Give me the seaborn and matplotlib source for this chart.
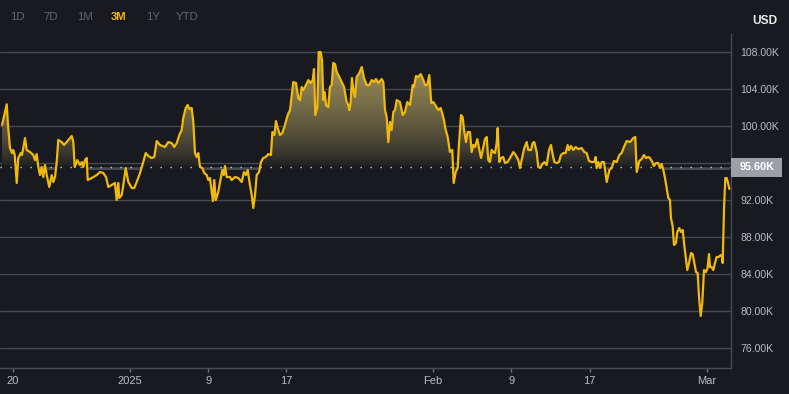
import numpy as np
import pandas as pd
import matplotlib
matplotlib.use("Agg")
import matplotlib.pyplot as plt
import matplotlib.dates as mdates
import matplotlib.transforms as mtransforms
from matplotlib.patches import Polygon, Rectangle
import seaborn as sns

# ---------------- data (days after 2024-12-20 00:00, price in thousand USD) -------------
days_a = [-1.08, -0.60, -0.47, -0.27, -0.06, 0.07, 0.22, 0.42, 0.58, 0.83,
          0.96, 1.09, 1.27, 1.44, 1.78, 2.12, 2.29, 2.46, 2.63, 2.80,
          2.98, 3.14, 3.31, 3.49, 3.75, 4.00, 4.16, 4.34, 4.51, 4.67,
          5.02, 5.26, 5.53, 5.87, 6.04, 6.21, 6.35, 6.62, 6.89, 7.07,
          7.23, 7.40, 7.58, 7.68, 8.09, 8.60, 8.94, 9.27, 9.55, 9.79,
          10.13, 10.47, 10.64, 10.81, 10.91, 11.16, 11.32, 11.57, 11.83, 12.18,
          12.44, 12.69, 13.03, 13.36, 13.61, 13.88]
price_a = [100.11, 102.35, 100.11, 97.62, 97.08, 97.41, 96.87, 93.84, 96.54, 97.08,
           96.87, 97.62, 98.70, 97.41, 97.19, 96.87, 96.32, 96.97, 95.57, 94.70,
           95.57, 94.49, 95.78, 94.70, 93.41, 94.70, 93.95, 94.49, 96.11, 98.49,
           98.27, 97.95, 98.27, 98.70, 98.92, 98.27, 95.57, 96.32, 95.78, 96.11,
           95.57, 96.32, 96.54, 94.16, 94.38, 94.70, 95.03, 94.92, 94.49, 93.41,
           93.62, 93.84, 92.00, 93.84, 92.22, 92.54, 93.62, 95.46, 93.95, 93.30,
           93.30, 93.95, 94.92, 96.11, 97.08, 96.76]

days_b = [14.22, 14.49, 14.74, 15.07, 15.58, 15.92, 16.27, 16.53, 16.78, 17.05,
          17.29, 17.45, 17.70, 17.90, 18.07, 18.31, 18.48, 18.65, 18.82, 18.99,
          19.16, 19.40, 19.60, 19.85, 20.01, 20.18, 20.36, 20.49, 20.62, 20.77,
          21.03, 21.31, 21.44, 21.59, 21.72, 21.89, 22.23, 22.40, 22.74, 23.08,
          23.43, 23.66, 23.87, 24.04, 24.27, 24.45, 24.61, 24.79, 24.96, 25.20,
          25.40, 25.63, 25.88, 26.15, 26.42, 26.56, 26.77, 26.93, 27.11, 27.34,
          27.58, 27.85, 28.13, 28.37]
price_b = [96.54, 96.65, 98.38, 97.95, 97.73, 98.27, 98.16, 97.73, 98.16, 99.03,
           99.57, 100.87, 101.95, 102.27, 101.84, 101.95, 100.43, 97.08, 96.65, 97.08,
           95.57, 95.46, 94.92, 94.70, 94.16, 94.38, 92.87, 91.89, 94.16, 92.00,
           92.87, 94.49, 95.24, 94.70, 95.68, 94.49, 94.49, 94.16, 94.49, 94.38,
           93.95, 95.03, 94.70, 95.24, 93.62, 92.54, 91.14, 92.54, 94.70, 95.03,
           96.11, 96.54, 96.65, 96.97, 96.87, 99.35, 99.03, 100.54, 99.78, 99.03,
           99.24, 100.11, 101.19, 101.73]

days_c = [28.70, 28.98, 29.21, 29.39, 29.56, 29.73, 30.00, 30.24, 30.48, 30.69,
          30.82, 30.95, 31.16, 31.30, 31.50, 31.64, 31.77, 31.91, 32.05, 32.28,
          32.45, 32.63, 32.79, 32.97, 33.14, 33.41, 33.65, 33.89, 34.16, 34.33,
          34.43, 34.57, 34.70, 34.84, 35.01, 35.18, 35.45, 35.70, 35.93, 36.21,
          36.47, 36.72, 36.95, 37.16, 37.39, 37.74, 37.91, 38.08, 38.25, 38.42,
          38.59, 38.76, 38.93, 39.10, 39.28, 39.61, 39.89, 40.12, 40.36, 40.64,
          40.91, 41.04, 41.25, 41.48, 41.73, 42.00, 42.17, 42.40, 42.61, 42.81,
          43.02, 43.22, 43.53, 43.77, 43.98, 44.11, 44.24, 44.49, 44.72, 44.96]
price_c = [104.76, 104.65, 103.03, 102.81, 104.22, 103.89, 104.43, 104.97, 104.65, 104.97,
           106.16, 101.19, 102.05, 108.00, 108.00, 107.14, 102.81, 103.68, 102.27, 102.05,
           104.22, 104.43, 106.81, 106.70, 105.84, 105.30, 104.76, 104.22, 102.59, 102.27,
           101.73, 102.59, 105.19, 103.89, 103.14, 105.30, 105.73, 106.38, 105.19, 104.43,
           104.43, 104.97, 104.76, 105.08, 104.65, 105.08, 104.76, 101.73, 100.97, 98.27,
           100.43, 99.57, 101.51, 101.73, 102.81, 102.59, 101.19, 101.51, 102.59, 102.27,
           104.43, 104.22, 105.41, 105.30, 105.62, 104.97, 104.43, 104.43, 105.51, 102.49,
           102.59, 102.27, 101.73, 101.95, 101.19, 100.65, 99.78, 98.81, 97.19, 97.41]

days_d = [45.10, 45.31, 45.51, 45.65, 45.85, 46.02, 46.19, 46.36, 46.53, 46.77,
          46.94, 47.11, 47.28, 47.52, 47.69, 47.90, 48.13, 48.30, 48.48, 48.64,
          48.81, 48.99, 49.15, 49.33, 49.50, 49.60, 49.77, 49.94, 50.17, 50.35,
          50.62, 50.86, 51.03, 51.20, 51.44, 51.71, 51.88, 52.12, 52.32, 52.57,
          52.73, 53.01, 53.18, 53.34, 53.59, 53.75, 53.93, 54.10, 54.37, 54.61,
          54.85, 55.05, 55.18, 55.39, 55.63, 55.87, 56.07, 56.31, 56.55, 56.76,
          56.89, 57.10, 57.33, 57.58, 57.84, 58.19, 58.46, 58.70, 58.94, 59.21,
          59.48, 59.62, 59.72, 59.89, 60.06, 60.24]
price_d = [93.84, 95.03, 95.46, 98.16, 101.19, 100.97, 99.35, 98.27, 99.35, 99.35,
           97.19, 97.95, 97.73, 98.59, 97.62, 96.54, 97.73, 98.59, 98.81, 96.32,
           96.11, 97.41, 97.19, 97.08, 98.16, 99.78, 96.11, 96.54, 96.65, 96.00,
           96.11, 96.54, 96.87, 97.19, 96.87, 96.32, 95.46, 96.65, 97.62, 98.27,
           97.41, 97.41, 98.16, 98.27, 97.19, 95.57, 95.46, 95.78, 96.11, 95.78,
           97.41, 97.95, 97.19, 96.11, 96.00, 96.11, 96.87, 97.08, 97.08, 97.95,
           97.41, 97.84, 97.41, 97.73, 97.51, 97.62, 97.19, 97.08, 96.22, 96.11,
           96.11, 96.65, 95.46, 96.11, 95.46, 96.11]

days_e = [60.47, 60.75, 61.02, 61.26, 61.49, 61.77, 62.04, 62.28, 62.51, 62.79,
          63.13, 63.47, 63.67, 63.82, 64.08, 64.32, 64.56, 64.77, 65.00, 65.18,
          65.41, 65.58, 65.79, 66.02, 66.20, 66.37, 66.54, 66.71, 66.88, 67.05,
          67.22, 67.32, 67.49, 67.63, 67.83, 67.97, 68.17, 68.35, 68.52, 68.68,
          68.86, 68.99, 69.19, 69.37, 69.54, 69.71, 69.88, 70.05, 70.19, 70.36,
          70.52, 70.70, 70.90, 71.07, 71.21, 71.31, 71.48, 71.65, 71.82, 71.99,
          72.20, 72.40, 72.54, 72.61, 72.75, 72.88, 73.02, 73.16, 73.29]
price_e = [96.11, 93.95, 95.24, 95.46, 96.22, 96.11, 96.87, 97.08, 97.73, 98.38,
           98.27, 98.70, 98.81, 95.03, 96.22, 96.43, 96.87, 96.54, 96.65, 96.54,
           96.11, 95.68, 96.00, 96.00, 95.46, 95.89, 95.24, 94.38, 93.30, 92.22,
           92.00, 90.05, 89.19, 87.14, 87.35, 88.54, 88.97, 88.54, 88.76, 87.14,
           85.51, 84.43, 85.30, 86.27, 86.16, 85.19, 84.22, 84.11, 81.51, 79.46,
           80.86, 84.43, 84.22, 84.65, 86.16, 84.76, 84.76, 84.43, 85.19, 85.84,
           85.84, 86.05, 85.84, 85.19, 91.24, 94.38, 94.38, 93.84, 93.19]

start_date = "2024-12-20"
baseline_k = 95.60
baseline_label = "95.60K"
y_ticks = [76, 80, 84, 88, 92, 96, 100, 104, 108]
y_tick_labels = ["76.00K", "80.00K", "84.00K", "88.00K", "92.00K", "", "100.00K", "104.00K", "108.00K"]
x_tick_dates = ["2024-12-20", "2025-01-01", "2025-01-09", "2025-01-17",
                "2025-02-01", "2025-02-09", "2025-02-17", "2025-03-01"]
x_tick_labels = ["20", "2025", "9", "17", "Feb", "9", "17", "Mar"]
range_buttons = ["1D", "7D", "1M", "3M", "1Y", "YTD"]
active_button = "3M"
currency = "USD"

# ---------------- styling ----------------
BG = "#181a20"
YELLOW = "#f0b90b"
GRID = "#454a52"
TICK_TXT = "#b7bdc6"
MUTED = "#5e6673"

sns.set_theme(style="dark", rc={"axes.facecolor": BG, "figure.facecolor": BG})
plt.rcParams["font.family"] = ["Liberation Sans", "DejaVu Sans"]

W, H = 789, 394
fig = plt.figure(figsize=(W / 100, H / 100), dpi=100, facecolor=BG)
ax = fig.add_axes([0, 26 / H, 731 / W, 334 / H])
ax.set_facecolor(BG)

days = days_a + days_b + days_c + days_d + days_e
price = price_a + price_b + price_c + price_d + price_e
dates = pd.Timestamp(start_date) + pd.to_timedelta(days, unit="D")
df = pd.DataFrame({"date": dates, "price": price})

sns.lineplot(data=df, x="date", y="price", ax=ax, color=YELLOW, linewidth=1.6,
             zorder=6, sort=False)

xnum = mdates.date2num(df["date"])
yv = df["price"].to_numpy()
x0 = mdates.date2num(pd.Timestamp("2024-12-18 17:05"))
x1 = mdates.date2num(pd.Timestamp("2025-03-03 11:02"))
y0, y1 = 73.84, 109.95

# gradient fill above baseline
upper = np.maximum(yv, baseline_k)
verts = list(zip(xnum, upper)) + [(xnum[-1], baseline_k), (xnum[0], baseline_k)]
poly = Polygon(verts, closed=True, facecolor="none", edgecolor="none")
ax.add_patch(poly)
rows = np.linspace(baseline_k, y1, 300)
t = np.clip((rows - baseline_k) / (108 - baseline_k), 0, 1) ** 0.7
bg_rgb = np.array([24, 26, 32]) / 255
top_rgb = np.array([168, 152, 92]) / 255
img = bg_rgb[None, :] + (top_rgb - bg_rgb)[None, :] * t[:, None]
img = img[:, None, :]
im = ax.imshow(img, extent=[xnum[0], xnum[-1], baseline_k, y1], origin="lower",
               aspect="auto", zorder=2, interpolation="bilinear")
im.set_clip_path(poly)

# thin grey band just below baseline where price is under it
lower = np.clip(yv, baseline_k - 0.3, baseline_k)
ax.fill_between(xnum, baseline_k, lower, color="#464a52", linewidth=0, zorder=3)

# baseline dotted
ax.axhline(baseline_k, color="#c9ccd2", lw=1.0, ls=(0, (1, 6.2)), zorder=4)

ax.set_xlim(x0, x1)
ax.set_ylim(y0, y1)

# axes
ax.set_yticks(y_ticks)
ax.set_yticklabels(y_tick_labels)
ax.yaxis.tick_right()
ax.grid(axis="y", color=GRID, lw=1.0, zorder=1)
ax.grid(axis="x", visible=False)
ax.set_xticks(mdates.date2num(pd.to_datetime(x_tick_dates)))
ax.set_xticklabels(x_tick_labels)
ax.tick_params(axis="x", length=3, width=1, color="#6b7280", labelcolor=TICK_TXT,
               labelsize=8, pad=3, bottom=True)
ax.tick_params(axis="y", length=0, labelcolor=TICK_TXT, labelsize=7.6, pad=6.5,
               right=True, left=False, labelright=True, labelleft=False)
ax.set_xlabel("")
ax.set_ylabel("")
for side in ["left", "top"]:
    ax.spines[side].set_visible(False)
for side in ["bottom", "right"]:
    ax.spines[side].set_visible(True)
    ax.spines[side].set_color("#474d57")
    ax.spines[side].set_linewidth(1.0)

# price badge
blend = mtransforms.blended_transform_factory(ax.transAxes, ax.transData)
badge_h = 19 / 9.25
ax.add_patch(Rectangle((731.5 / 731, baseline_k - badge_h / 2 - 0.08), 50 / 731, badge_h,
                       transform=blend, facecolor="#9ba0a8", edgecolor="none",
                       clip_on=False, zorder=10))
ax.text(757 / 731, baseline_k - 0.08, baseline_label, transform=blend, ha="center",
        va="center", color="white", fontsize=7.8, fontweight="bold", zorder=11,
        clip_on=False)

# top range buttons
button_x = [17.3, 51, 85, 119, 153, 187]
for lbl, bx in zip(range_buttons, button_x):
    active = lbl == active_button
    fig.text(bx / W, 1 - 16.5 / H, lbl, ha="center", va="center", fontsize=8.2,
             color=YELLOW if active else MUTED,
             fontweight="bold" if active else "normal")

fig.text(765 / W, 1 - 21.5 / H, currency, ha="center", va="center", fontsize=8.6,
         color="#eaecef", fontweight="bold")

fig.savefig("out.png", dpi=100, facecolor=BG)
